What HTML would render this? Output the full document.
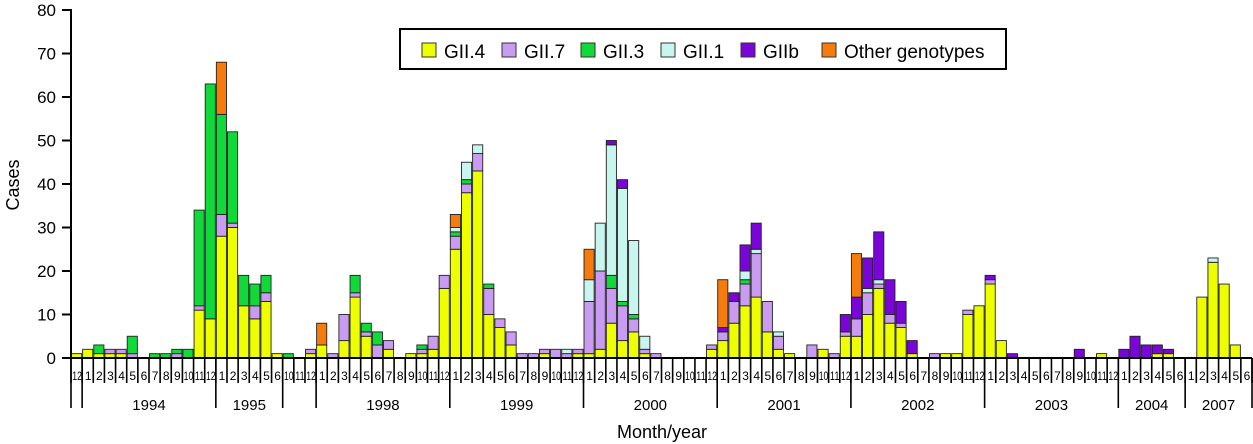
<!DOCTYPE html>
<html><head><meta charset="utf-8"><style>
html,body{margin:0;padding:0;background:#fff;}
svg{display:block;font-family:"Liberation Sans",Arial,sans-serif;}
</style></head><body>
<svg id="chart" width="1253" height="444" viewBox="0 0 1253 444"></svg>
<script>
const monthLabels = ["12","1","2","3","4","5","6","7","8","9","10","11","12","1","2","3","4","5","6","10","11","12",
"1","2","3","4","5","6","7","8","9","10","11","12","1","2","3","4","5","6","7","8","9","10","11","12",
"1","2","3","4","5","6","7","8","9","10","11","12","1","2","3","4","5","6","7","8","9","10","11","12",
"1","2","3","4","5","6","7","8","9","10","11","12","1","2","3","4","5","6","7","8","9","10","11","12",
"1","2","3","4","5","6","1","2","3","4","5","6"];
const years = ["1994","1995","","1998","1999","2000","2001","2002","2003","2004","2007"];
const yearStart = [1,13,19,22,34,46,58,70,82,94,100];
const yearEnd = [13,19,22,34,46,58,70,82,94,100,106];
const seriesNames = ["GII.4","GII.7","GII.3","GII.1","GIIb","Other genotypes"];
const seriesColors = ["#eeff00","#c99cf2","#11d93a","#c8f6ee","#7a05d8","#f47b0c"];
const gii4 = [1,2,1,1,1,0,0,0,0,0,0,11,9,28,30,12,9,13,1,0,0,1,3,0,4,14,5,0,2,0,1,1,2,16,25,38,43,10,7,3,0,0,1,0,0,1,1,2,8,4,6,1,0,0,0,0,0,2,4,8,12,14,6,2,1,0,0,2,0,5,5,10,16,8,7,1,0,0,1,1,10,12,17,4,0,0,0,0,0,0,0,0,1,0,0,0,0,1,1,0,0,14,22,17,3,0];
const gii7 = [0,0,0,1,1,1,0,0,0,1,0,1,0,5,1,0,3,2,0,0,0,1,0,1,6,1,1,3,2,0,0,1,3,3,3,2,4,6,2,3,1,1,1,2,1,1,12,18,8,8,3,1,1,0,0,0,0,1,2,5,5,10,7,3,0,0,3,0,1,1,4,5,1,2,1,0,0,1,0,0,1,0,1,0,0,0,0,0,0,0,0,0,0,0,0,0,0,0,0,0,0,0,0,0,0,0];
const gii3 = [0,0,2,0,0,4,0,1,1,1,2,22,54,23,21,7,5,4,0,1,0,0,0,0,0,4,2,3,0,0,0,1,0,0,1,1,0,1,0,0,0,0,0,0,0,0,0,0,3,1,1,0,0,0,0,0,0,0,0,0,1,0,0,0,0,0,0,0,0,0,0,0,0,0,0,0,0,0,0,0,0,0,0,0,0,0,0,0,0,0,0,0,0,0,0,0,0,0,0,0,0,0,0,0,0,0];
const gii1 = [0,0,0,0,0,0,0,0,0,0,0,0,0,0,0,0,0,0,0,0,0,0,0,0,0,0,0,0,0,0,0,0,0,0,1,4,2,0,0,0,0,0,0,0,1,0,5,11,30,26,17,3,0,0,0,0,0,0,0,0,2,1,0,1,0,0,0,0,0,0,0,1,1,0,0,0,0,0,0,0,0,0,0,0,0,0,0,0,0,0,0,0,0,0,0,0,0,0,0,0,0,0,1,0,0,0];
const giib = [0,0,0,0,0,0,0,0,0,0,0,0,0,0,0,0,0,0,0,0,0,0,0,0,0,0,0,0,0,0,0,0,0,0,0,0,0,0,0,0,0,0,0,0,0,0,0,0,1,2,0,0,0,0,0,0,0,0,1,2,6,6,0,0,0,0,0,0,0,4,5,7,11,8,5,3,0,0,0,0,0,0,1,0,1,0,0,0,0,0,2,0,0,0,2,5,3,2,1,0,0,0,0,0,0,0];
const other = [0,0,0,0,0,0,0,0,0,0,0,0,0,12,0,0,0,0,0,0,0,0,5,0,0,0,0,0,0,0,0,0,0,0,3,0,0,0,0,0,0,0,0,0,0,0,7,0,0,0,0,0,0,0,0,0,0,0,11,0,0,0,0,0,0,0,0,0,0,0,10,0,0,0,0,0,0,0,0,0,0,0,0,0,0,0,0,0,0,0,0,0,0,0,0,0,0,0,0,0,0,0,0,0,0,0];
const yTicks = [0,10,20,30,40,50,60,70,80];

const NS="http://www.w3.org/2000/svg";
const svg=document.getElementById('chart');
const X0=71, X1=1252, Y0=358, Y80=10;
const N=monthLabels.length, SW=(X1-X0)/N;
const xs=i=>X0+i*SW;
const ys=v=>Y0-(v/80)*(Y0-Y80);
function mk(tag,attrs,parent){const e=document.createElementNS(NS,tag);for(const k in attrs)e.setAttribute(k,attrs[k]);(parent||svg).appendChild(e);return e;}

const series=[gii4,gii7,gii3,gii1,giib,other];
const barsG=mk('g',{});


for(let i=0;i<N;i++){
  let base=0;
  for(let s=0;s<series.length;s++){
    const v=series[s][i]; if(!v) continue;
    const r=mk('rect',{x:xs(i)+0.5,y:ys(base+v),width:SW-1,height:ys(base)-ys(base+v),fill:seriesColors[s],stroke:'#222','stroke-width':0.9},barsG);
    
    
    base+=v;
  }
}
const axG=mk('g',{stroke:'#000','stroke-width':2});


mk('line',{x1:X0,y1:Y80-1,x2:X0,y2:Y0},axG);
mk('line',{x1:X0,y1:Y0,x2:X1,y2:Y0},axG);
yTicks.forEach(t=>{
  mk('line',{x1:62,y1:ys(t),x2:X0,y2:ys(t)},axG);
  const tx=mk('text',{x:56,y:ys(t)+6,'text-anchor':'end','font-size':17,fill:'#000'});
  tx.textContent=t;
  
  
});
for(let i=0;i<N;i++){
  mk('line',{x1:xs(i),y1:Y0,x2:xs(i),y2:383,stroke:'#000','stroke-width':1.6});
  const lbl=monthLabels[i];
  const t=mk('text',{x:xs(i)+SW/2+0.5,y:380,'text-anchor':'middle','font-size':12,fill:'#000'});
  if(lbl.length>1){t.setAttribute('textLength',SW-1.5);t.setAttribute('lengthAdjust','spacingAndGlyphs');}
  t.textContent=lbl;
  
  
}
mk('line',{x1:X1,y1:Y0,x2:X1,y2:383,stroke:'#000','stroke-width':1.6});
const bounds=new Set([0]);yearStart.forEach(v=>bounds.add(v));yearEnd.forEach(v=>bounds.add(v));
bounds.forEach(b=>mk('line',{x1:Math.min(xs(b),X1),y1:Y0,x2:Math.min(xs(b),X1),y2:408,stroke:'#000','stroke-width':1.6}));
years.forEach((y,k)=>{
  if(!y) return;
  const t=mk('text',{x:(xs(yearStart[k])+xs(yearEnd[k]))/2,y:410,'text-anchor':'middle','font-size':15,fill:'#000'});
  t.textContent=y;
  
  
});
const xt=mk('text',{x:662,y:438,'text-anchor':'middle','font-size':18,fill:'#000'});
xt.textContent='Month/year';


const yt=mk('text',{x:19,y:185,'text-anchor':'middle','font-size':18,fill:'#000',transform:'rotate(-90 19 185)'});
yt.textContent='Cases';


const lg=mk('g',{});


mk('rect',{x:400,y:29,width:606,height:40,fill:'#fff',stroke:'#000','stroke-width':2},lg);
const lx=[422,502,581,661,741,822];
seriesNames.forEach((n,s)=>{
  const e=mk('g',{},lg);
  
  
  mk('rect',{x:lx[s],y:43,width:14,height:14,fill:seriesColors[s],stroke:'#333','stroke-width':1},e);
  const t=mk('text',{x:lx[s]+22,y:58,'font-size':19,fill:'#000'},e);
  t.textContent=n;
});
</script>
</body></html>
